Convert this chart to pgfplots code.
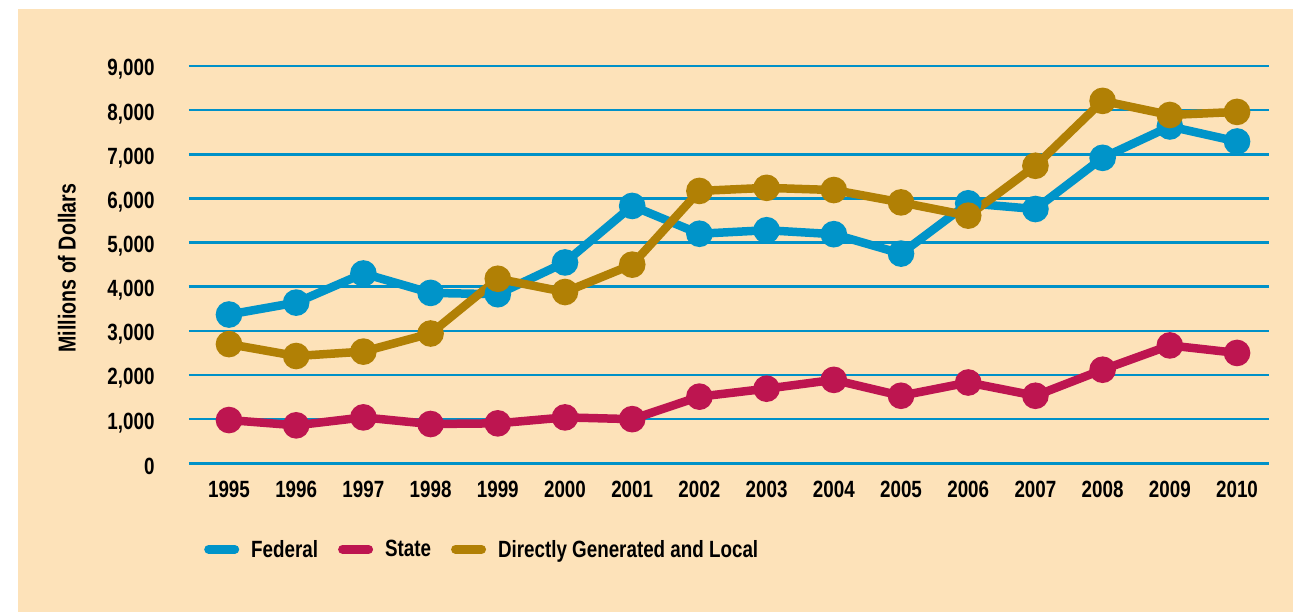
\documentclass[border=0pt]{standalone}
\usepackage{pgfplots}
\pgfplotsset{compat=1.18}
\usepackage{pgfplotstable}
\usepackage{fontspec}
\setmainfont{Liberation Sans}[FakeStretch=0.8]
\definecolor{peach}{RGB}{253,226,185}
\definecolor{fedblue}{RGB}{0,148,201}
\definecolor{statered}{RGB}{189,21,80}
\definecolor{dglgold}{RGB}{177,128,5}
\definecolor{gridblue}{RGB}{0,145,200}

\pgfplotstableread{
year fed state dgl
1995 3370 980 2700
1996 3640 860 2430
1997 4300 1040 2530
1998 3860 890 2940
1999 3830 905 4180
2000 4550 1040 3880
2001 5830 1000 4500
2002 5200 1510 6170
2003 5280 1690 6240
2004 5190 1890 6190
2005 4750 1530 5910
2006 5890 1830 5610
2007 5760 1530 6740
2008 6920 2120 8210
2009 7630 2670 7890
2010 7290 2500 7960
}\data

\newcommand{\lbl}{\fontsize{23.5}{28}\selectfont\bfseries}

\begin{document}
\begin{tikzpicture}
\fill[white] (-189pt,463.3pt) rectangle (1104pt,-148.7pt);
\fill[peach] (-171pt,454.3pt) rectangle (1104pt,-148.7pt);
\begin{axis}[
  at={(0pt,0pt)}, anchor=south west,
  scale only axis, width=1080pt, height=397.3pt,
  xmin=1994.405, xmax=2010.476, ymin=0, ymax=9000,
  axis line style={draw=none}, major tick length=0pt,
  ytick={0,1000,...,9000},
  ymajorgrids, grid style={gridblue, line width=2.5pt},
  xtick={1995,1996,...,2010},
  xticklabels={1995,1996,1997,1998,1999,2000,2001,2002,2003,2004,2005,2006,2007,2008,2009,2010},
  tick label style={font=\lbl},
  /pgf/number format/assume math mode=true,
  /pgf/number format/1000 sep={,},
  yticklabel style={xshift=-31pt, yshift=-3.5pt},
  xticklabel style={yshift=-14pt},
  ylabel={Millions of Dollars},
  ylabel style={font=\fontsize{24.5}{29}\selectfont\bfseries, at={(axis description cs:-0.113,0.4916)}, anchor=center},
  legend columns=3,
  legend cell align=left,
  legend style={at={(axis description cs:0.0139,-0.2166)}, anchor=west,
    draw=none, fill=none, inner sep=0pt, font=\lbl,
    /tikz/every odd column/.append style={column sep=10pt},
    /tikz/every even column/.append style={column sep=18pt}},
  legend image code/.code={\draw[#1, line width=9pt, line cap=round, mark=none] (5pt,0pt) -- (31pt,0pt);},
  every axis plot/.append style={line width=8.5pt, mark=*, mark size=9pt},
]
\addplot[color=fedblue] table[x=year, y=fed] {\data};
\addlegendentry{Federal}
\addplot[color=statered] table[x=year, y=state] {\data};
\addlegendentry{State}
\addplot[color=dglgold] table[x=year, y=dgl] {\data};
\addlegendentry{Directly Generated and Local}
\end{axis}
\end{tikzpicture}
\end{document}
